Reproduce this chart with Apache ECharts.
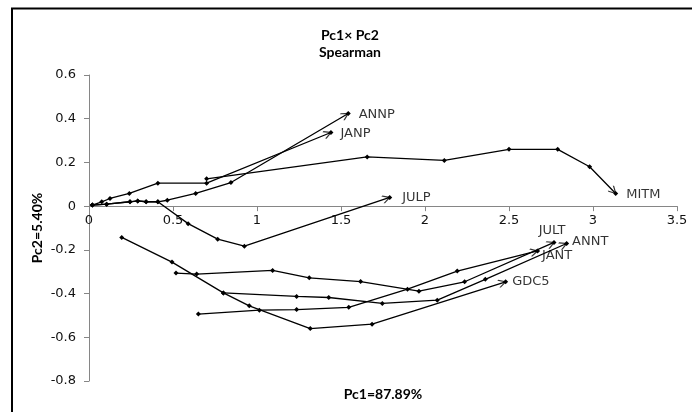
<!DOCTYPE html>
<html><head><meta charset="utf-8">
<script src="https://cdn.jsdelivr.net/npm/echarts@6/dist/echarts.min.js"></script>
<style>html,body{margin:0;padding:0;background:#fff}#c{width:692px;height:412px}</style>
</head><body><div id="c"></div>
<script>
// Axis settings
const xMin = 0, xMax = 3.5, xInterval = 0.5;
const yMin = -0.8, yMax = 0.6, yInterval = 0.2;

// Series names (trajectory labels)
const names = ['ANNP', 'JANP', 'MITM', 'JULP', 'JULT', 'ANNT', 'JANT', 'GDC5'];

// Series values [Pc1, Pc2]
const ANNP = [[0.02,0.005],[0.105,0.009],[0.244,0.02],[0.29,0.024],[0.34,0.02],[0.41,0.02],[0.466,0.027],[0.635,0.058],[0.845,0.108],[1.543,0.424]];
const JANP = [[0.02,0.005],[0.076,0.02],[0.125,0.035],[0.24,0.058],[0.41,0.105],[0.70,0.105],[1.44,0.337]];
const MITM = [[0.70,0.125],[1.656,0.225],[2.115,0.209],[2.50,0.26],[2.79,0.26],[2.98,0.18],[3.135,0.058]];
const JULP = [[0.02,0.005],[0.105,0.009],[0.244,0.02],[0.29,0.024],[0.34,0.02],[0.41,0.02],[0.59,-0.08],[0.766,-0.151],[0.925,-0.183],[1.79,0.04]];
const JULT = [[0.518,-0.306],[0.641,-0.311],[1.093,-0.294],[1.311,-0.328],[1.617,-0.345],[1.964,-0.389],[2.236,-0.346],[2.768,-0.166]];
const ANNT = [[0.80,-0.397],[1.236,-0.413],[1.427,-0.418],[1.746,-0.445],[2.073,-0.43],[2.359,-0.335],[2.843,-0.171]];
const JANT = [[0.651,-0.494],[1.014,-0.476],[1.236,-0.473],[1.546,-0.463],[1.896,-0.38],[2.192,-0.297],[2.67,-0.205]];
const GDC5 = [[0.195,-0.143],[0.494,-0.256],[0.80,-0.397],[0.954,-0.456],[1.317,-0.56],[1.685,-0.54],[2.48,-0.346]];

const seriesData = [ANNP, JANP, MITM, JULP, JULT, ANNT, JANT, GDC5];

const FONT = 'DejaVu Sans';
const TFONT = 'Lato';

const labelCfg = {
  ANNP: {position: 'right', distance: 10, offset: [0, 1]},
  JANP: {position: 'right', distance: 9, offset: [0, 1]},
  MITM: {position: 'right', distance: 10, offset: [0, 1]},
  JULP: {position: 'right', distance: 12, offset: [0, 0]},
  JULT: {position: 'top', distance: 5, offset: [-2, 0]},
  ANNT: {position: 'right', distance: 5, offset: [0, -2]},
  JANT: {position: 'right', distance: 4, offset: [0, 5]},
  GDC5: {position: 'right', distance: 6, offset: [0, 0]}
};

const GRID_BOTTOM = 31, H = 412;
const chart = echarts.init(document.getElementById('c'), null, {renderer: 'canvas'});

const ARROW = 'path://M0,0 M10,20 M1.2,17 L5,10 L8.8,17';

function build(rot, xOffset) {
  const series = names.map((n, i) => ({
    type: 'line', name: n, data: seriesData[i],
    symbol: 'diamond', symbolSize: 5, showAllSymbol: true,
    lineStyle: {color: '#000', width: 1.3},
    itemStyle: {color: '#000'},
    z: 2, silent: true
  }));
  series.push({
    type: 'scatter', name: 'arrows',
    data: names.map((n, i) => {
      const d = seriesData[i];
      return {value: d[d.length - 1], symbolRotate: rot ? rot[i] : 0};
    }),
    symbol: ARROW, symbolSize: [10, 20],
    itemStyle: {color: 'transparent', borderColor: '#000', borderWidth: 1.3},
    z: 3, silent: true
  });
  series.push({
    type: 'scatter', name: 'labels',
    data: names.map((n, i) => {
      const d = seriesData[i];
      return {name: n, value: d[d.length - 1], label: labelCfg[n]};
    }),
    symbol: 'circle', symbolSize: 1,
    itemStyle: {color: 'transparent'},
    label: {show: true, formatter: '{b}', color: '#000', fontFamily: FONT, fontSize: 13},
    z: 4, silent: true
  });
  const tStyle = (t, size) => ({text: t, textAlign: 'center', textVerticalAlign: 'middle', verticalAlign: 'middle', font: 'bold ' + size + 'px ' + TFONT, fill: '#000'});
  return {
    animation: false,
    backgroundColor: '#fff',
    grid: {left: 89, right: 15, top: 75, bottom: GRID_BOTTOM, containLabel: false},
    xAxis: {
      type: 'value', min: xMin, max: xMax, interval: xInterval,
      position: 'bottom', offset: xOffset || 0,
      axisLine: {onZero: false, lineStyle: {color: '#868686', width: 1}},
      axisTick: {show: true, length: 5, lineStyle: {color: '#868686'}},
      splitLine: {show: false},
      axisLabel: {margin: 8, color: '#111', fontFamily: FONT, fontSize: 13}
    },
    yAxis: {
      type: 'value', min: yMin, max: yMax, interval: yInterval,
      axisLine: {show: true, onZero: false, lineStyle: {color: '#868686', width: 1}},
      axisTick: {show: true, length: 5, lineStyle: {color: '#868686'}},
      splitLine: {show: false},
      axisLabel: {margin: 13, color: '#111', fontFamily: FONT, fontSize: 13}
    },
    graphic: [
      {type: 'rect', shape: {x: 12, y: 8.5, width: 720, height: 440}, style: {fill: 'none', stroke: '#000', lineWidth: 2}, silent: true, z: 10},
      {type: 'text', x: 350, y: 35, style: tStyle('Pc1× Pc2', 14)},
      {type: 'text', x: 350, y: 52, style: tStyle('Spearman', 14)},
      {type: 'text', x: 383, y: 394, style: tStyle('Pc1=87.89%', 14)},
      {type: 'text', x: 37, y: 228, rotation: Math.PI / 2, style: tStyle('Pc2=5.40%', 14)}
    ],
    series: series
  };
}

chart.setOption(build(null, 0));
const rot = seriesData.map(d => {
  const a = chart.convertToPixel({gridIndex: 0}, d[d.length - 2]);
  const b = chart.convertToPixel({gridIndex: 0}, d[d.length - 1]);
  const dx = b[0] - a[0], dy = b[1] - a[1];
  return Math.atan2(-dx, -dy) * 180 / Math.PI;
});
const y0 = chart.convertToPixel({yAxisIndex: 0}, 0);
const xOffset = y0 - (H - GRID_BOTTOM);
chart.setOption(build(rot, xOffset), true);
</script>
</body></html>
